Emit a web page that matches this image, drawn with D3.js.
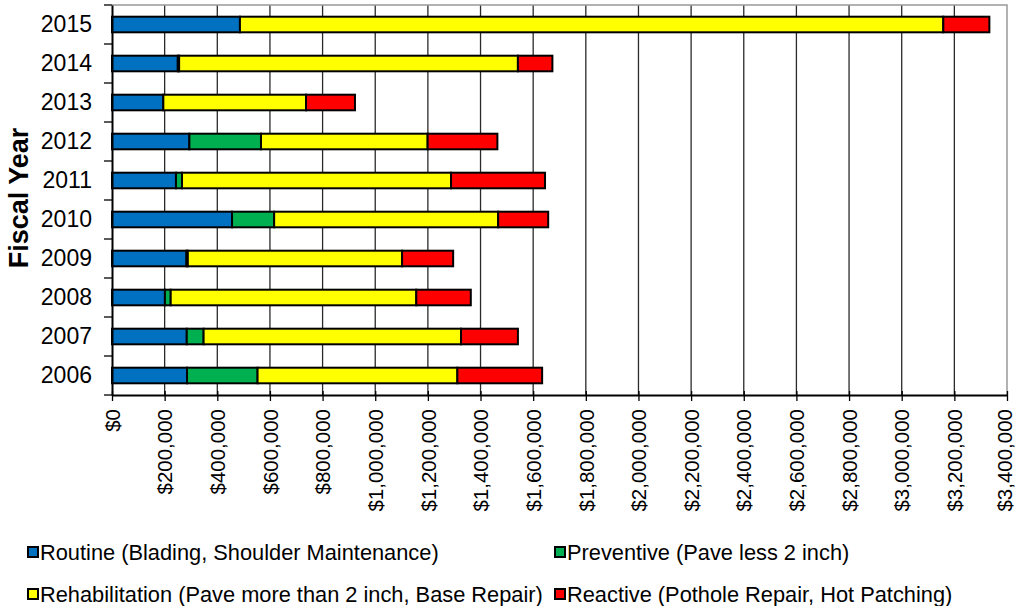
<!DOCTYPE html>
<html>
<head>
<meta charset="utf-8">
<script src="https://cdn.jsdelivr.net/npm/d3@7"></script>
<style>
body { margin: 0; background: #fff; }
svg text { font-family: "Liberation Sans", Arial, sans-serif; fill: #000; }
</style>
</head>
<body>
<div class="content"></div>
<script>
// fiscal years, bottom to top
var years = ["2006", "2007", "2008", "2009", "2010", "2011", "2012", "2013", "2014", "2015"];
var routine    = [285000, 284000, 201000, 283000, 456000, 243000, 294000, 195000, 250000, 486000];
var preventive = [268000,  64000,  22000,   5000, 160000,  23000, 272000,      0,   5000,      0];
var rehab      = [759000, 978000, 933000, 814000, 851000, 1022000, 633000, 542000, 1287000, 2672000];
var reactive   = [322000, 216000, 207000, 194000, 190000, 357000, 265000, 186000, 131000, 175000];
var seriesKeys = ["routine", "preventive", "rehab", "reactive"];
var seriesNames = ["Routine (Blading, Shoulder Maintenance)", "Preventive (Pave less 2 inch)",
  "Rehabilitation (Pave more than 2 inch, Base Repair)", "Reactive (Pothole Repair, Hot Patching)"];
var seriesColors = ["#0070C0", "#00B050", "#FFFF00", "#FF0000"];
var xTickValues = [0, 200000, 400000, 600000, 800000, 1000000, 1200000, 1400000, 1600000, 1800000,
  2000000, 2200000, 2400000, 2600000, 2800000, 3000000, 3200000, 3400000];

var width = 1017, height = 606;
var plotL = 112, plotR = 1007, plotT = 5, plotB = 395;

var svg = d3.select(".content").append("svg").attr("width", width).attr("height", height);

var table = years.map(function(y, i){
  return {year: y, routine: routine[i], preventive: preventive[i], rehab: rehab[i], reactive: reactive[i]};
});
var stacked = d3.stack().keys(seriesKeys)(table);

var x = d3.scaleLinear().domain([0, 3400000]).range([plotL, plotR]);
var y = d3.scaleBand().domain(years.slice().reverse()).range([plotT, plotB]).paddingInner(0.6).paddingOuter(0.3);

// grid lines
svg.append("g").selectAll("line").data(xTickValues.slice(1, -1)).enter().append("line")
  .attr("x1", function(d){ return x(d); }).attr("x2", function(d){ return x(d); })
  .attr("y1", plotT).attr("y2", plotB)
  .attr("stroke", "#2a2a2a").attr("stroke-width", 1.3);

// plot border top/right
svg.append("path").attr("d", "M" + plotL + "," + plotT + "L" + plotR + "," + plotT + "L" + plotR + "," + plotB)
  .attr("stroke", "#999").attr("stroke-width", 1.5).attr("fill", "none");

// bars
svg.append("g").selectAll("g").data(stacked).enter().append("g")
  .attr("fill", function(d, i){ return seriesColors[i]; })
  .selectAll("rect").data(function(d){ return d.filter(function(e){ return e[1] - e[0] > 0; }); })
  .enter().append("rect")
  .attr("x", function(d){ return x(d[0]); })
  .attr("width", function(d){ return x(d[1]) - x(d[0]); })
  .attr("y", function(d){ return y(d.data.year); })
  .attr("height", y.bandwidth())
  .attr("stroke", "#000").attr("stroke-width", 2);

// x axis
var xAxis = svg.append("g").attr("transform", "translate(0," + plotB + ")")
  .call(d3.axisBottom(x).tickValues(xTickValues).tickFormat(d3.format("$,")).tickSizeInner(6).tickSizeOuter(0));
xAxis.select(".domain").attr("stroke", "#000").attr("stroke-width", 2);
xAxis.selectAll(".tick line").attr("y1", -4).attr("stroke", "#000").attr("stroke-width", 1.3);
xAxis.selectAll("text")
  .attr("transform", "rotate(-90)").attr("x", -14)
  .attr("y", function(d, i){ return i === xTickValues.length - 1 ? -3 : 0; })
  .attr("dy", "0.35em")
  .style("text-anchor", "end").style("font-size", "20.5px").attr("fill", "#000");

// y axis
var yAxis = svg.append("g").attr("transform", "translate(" + plotL + ",0)")
  .call(d3.axisLeft(y).tickSize(0).tickPadding(20));
yAxis.select(".domain").attr("stroke", "#000").attr("stroke-width", 2);
yAxis.selectAll("text").style("font-size", "23px").attr("fill", "#000");
var gap = (y.step() - y.bandwidth()) / 2;
var bounds = years.map(function(d){ return y(d) - gap; }).concat([plotB]);
yAxis.selectAll(".bound").data(bounds).enter().append("line").attr("class", "bound")
  .attr("x1", -8).attr("x2", 0)
  .attr("y1", function(d){ return d; }).attr("y2", function(d){ return d; })
  .attr("stroke", "#000").attr("stroke-width", 1.3);

svg.append("text").attr("transform", "translate(28," + ((plotT + plotB) / 2 - 2) + ") rotate(-90)")
  .attr("text-anchor", "middle").style("font-size", "27px").style("font-weight", "bold")
  .text("Fiscal Year");

// legend
var legendPos = [[28, 552], [555, 552], [28, 594], [555, 594]];
var order = [0, 1, 2, 3];
var lg = svg.append("g").selectAll("g").data(order).enter().append("g")
  .attr("transform", function(d){ return "translate(" + legendPos[d][0] + "," + legendPos[d][1] + ")"; });
lg.append("rect").attr("x", 0).attr("y", -5).attr("width", 10).attr("height", 10)
  .attr("fill", function(d){ return seriesColors[d]; }).attr("stroke", "#000").attr("stroke-width", 2);
lg.append("text").attr("x", 12).attr("dy", "0.35em").style("font-size", "21.8px")
  .text(function(d){ return seriesNames[d]; });
</script>
</body>
</html>
